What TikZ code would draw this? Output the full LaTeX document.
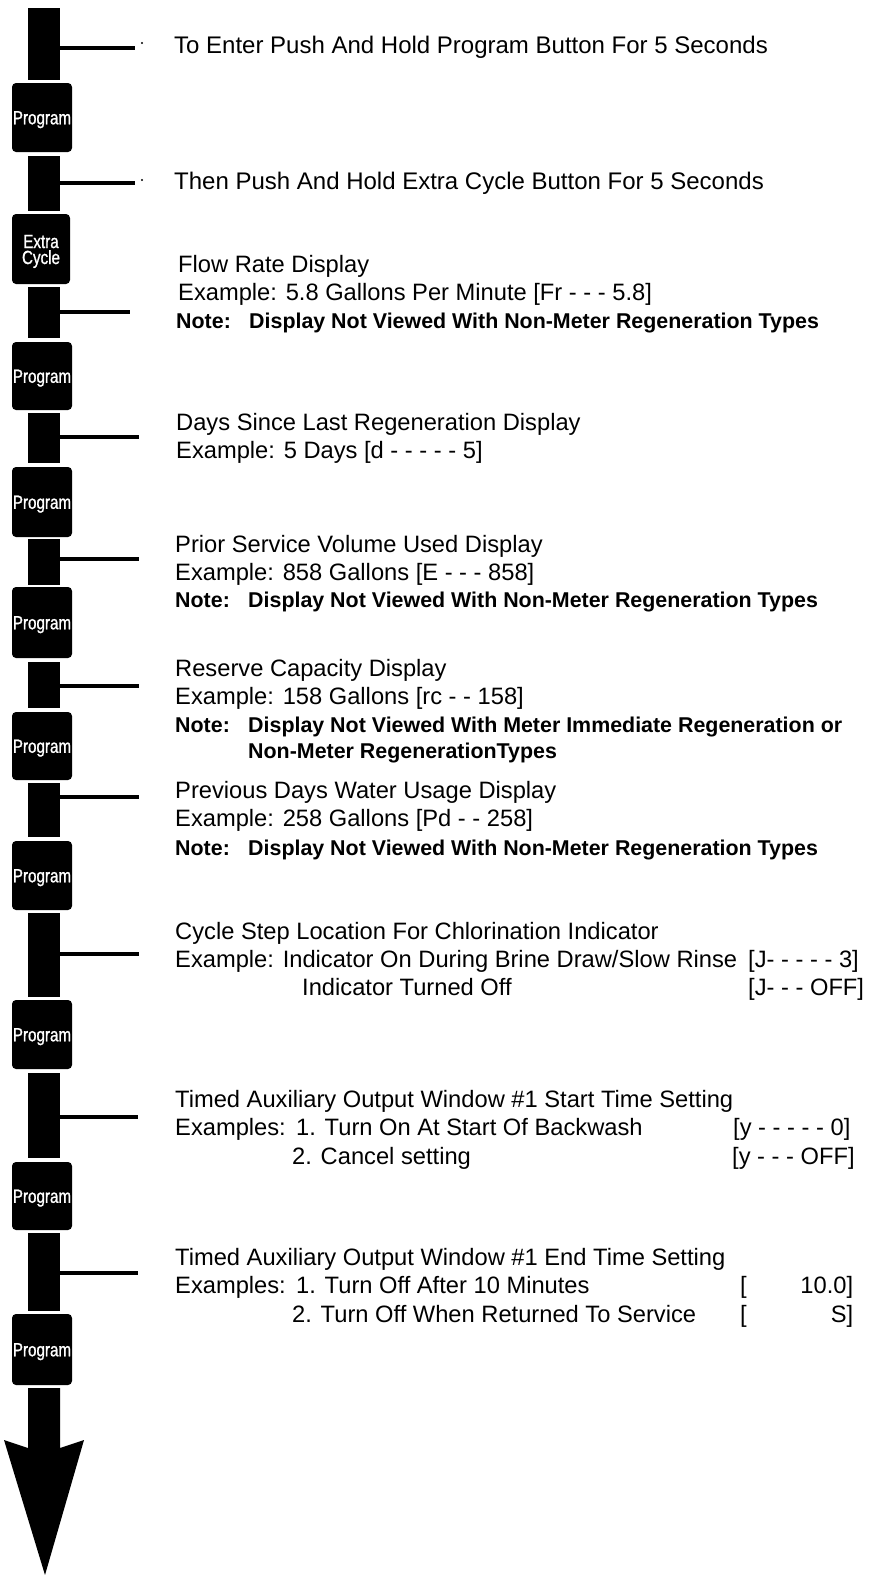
\documentclass[tikz,border=0pt]{standalone}
\usepackage{fontspec}
\setmainfont{Liberation Sans}
\newfontfamily\btnfont[FakeStretch=0.8,FakeBold=1]{Liberation Sans}
\begin{document}
\begin{tikzpicture}[x=1pt,y=-1pt,
  bar/.style={fill=black, draw=none, inner sep=0pt, outer sep=0pt, minimum width=32pt},
  btn/.style={fill=black, draw=none, rounded corners=4pt, inner sep=0pt, outer sep=0pt,
    minimum width=60pt, text=white, font=\btnfont\fontsize{19}{17}\selectfont,
    text height=13.5pt, text depth=0pt, align=center},
  lead/.style={line width=4pt, line cap=butt},
  txt/.style={anchor=base west, inner sep=0pt, font=\fontsize{23.7}{28}\selectfont},
  bigtxt/.style={txt, font=\fontsize{24}{28}\selectfont},
  notetxt/.style={anchor=base west, inner sep=0pt, font=\fontsize{21.4}{26}\selectfont\bfseries}]
\useasboundingbox (0,0) rectangle (880,1575);

% ---- left column: bars and buttons ----
\node[bar, minimum height=72pt] (b1) at (44,44) {};
\node[btn, minimum height=69pt] (p1) at (42,117.5) {Program};
\node[bar, minimum height=55pt] (b2) at (44,183.5) {};
\node[btn, minimum height=70pt, minimum width=58pt, text height=30pt] (x1) at (41,249) {Extra\\[-1pt]Cycle};
\node[bar, minimum height=51pt] (b3) at (44,312.5) {};
\node[btn, minimum height=68pt] (p2) at (42,376) {Program};
\node[bar, minimum height=50pt] (b4) at (44,438) {};
\node[btn, minimum height=70pt] (p3) at (42,502) {Program};
\node[bar, minimum height=46pt] (b5) at (44,562) {};
\node[btn, minimum height=71pt] (p4) at (42,622.5) {Program};
\node[bar, minimum height=46pt] (b6) at (44,685) {};
\node[btn, minimum height=68pt] (p5) at (42,746) {Program};
\node[bar, minimum height=54pt] (b7) at (44,810) {};
\node[btn, minimum height=69pt] (p6) at (42,875.5) {Program};
\node[bar, minimum height=84pt] (b8) at (44,955) {};
\node[btn, minimum height=69pt] (p7) at (42,1034.5) {Program};
\node[bar, minimum height=85pt] (b9) at (44,1115.5) {};
\node[btn, minimum height=68pt] (p8) at (42,1196) {Program};
\node[bar, minimum height=78pt] (b10) at (44,1272) {};
\node[btn, minimum height=71pt] (p9) at (42,1349.5) {Program};

% ---- final arrow ----
\fill (28,1388) -- (60,1388) -- (60,1448) -- (84,1440) -- (45,1575) -- (4,1440) -- (28,1448) -- cycle;

% ---- leader lines ----
\coordinate (e1) at (135,48);
\coordinate (e2) at (135,183);
\coordinate (e3) at (130,312);
\coordinate (e4) at (139,437);
\coordinate (e5) at (139,559);
\coordinate (e6) at (139,686);
\coordinate (e7) at (139,797);
\coordinate (e8) at (139,954);
\coordinate (e9) at (138,1117);
\coordinate (e10) at (138,1273);
\draw[lead] (b1.east |- e1) -- (e1);
\draw[lead] (b2.east |- e2) -- (e2);
\draw[lead] (b3.east |- e3) -- (e3);
\draw[lead] (b4.east |- e4) -- (e4);
\draw[lead] (b5.east |- e5) -- (e5);
\draw[lead] (b6.east |- e6) -- (e6);
\draw[lead] (b7.east |- e7) -- (e7);
\draw[lead] (b8.east |- e8) -- (e8);
\draw[lead] (b9.east |- e9) -- (e9);
\draw[lead] (b10.east |- e10) -- (e10);
\coordinate (d1) at (142,43);
\coordinate (d2) at (142,180);
\fill (d1) circle (1.1pt);
\fill (d2) circle (1.1pt);

% ---- texts ----
\node[bigtxt] (t1) at (174,53) {To Enter Push And Hold Program Button For 5 Seconds};
\node[bigtxt] (t2) at (174,189) {Then Push And Hold Extra Cycle Button For 5 Seconds};

\node[txt] (t3) at (178,272) {Flow Rate Display};
\node[txt] (t4) at (178,300) {Example: 5.8 Gallons Per Minute [Fr - - - 5.8]};
\node[notetxt] (n1a) at (176,328) {Note:};
\node[notetxt] (n1b) at (249,328) {Display Not Viewed With Non-Meter Regeneration Types};

\node[txt] (t5) at (176,430) {Days Since Last Regeneration Display};
\node[txt] (t6) at (176,458) {Example: 5 Days [d - - - - - 5]};

\node[txt] (t7) at (175,552) {Prior Service Volume Used Display};
\node[txt] (t8) at (175,580) {Example: 858 Gallons [E - - - 858]};
\node[notetxt] (n2a) at (175,607) {Note:};
\node[notetxt] (n2b) at (248,607) {Display Not Viewed With Non-Meter Regeneration Types};

\node[txt] (t9) at (175,676) {Reserve Capacity Display};
\node[txt] (t10) at (175,704) {Example: 158 Gallons [rc - - 158]};
\node[notetxt] (n3a) at (175,732) {Note:};
\node[notetxt] (n3b) at (248,732) {Display Not Viewed With Meter Immediate Regeneration or};
\node[notetxt] (n3c) at (248,758) {Non-Meter RegenerationTypes};

\node[txt] (t11) at (175,798) {Previous Days Water Usage Display};
\node[txt] (t12) at (175,826) {Example: 258 Gallons [Pd - - 258]};
\node[notetxt] (n4a) at (175,855) {Note:};
\node[notetxt] (n4b) at (248,855) {Display Not Viewed With Non-Meter Regeneration Types};

\node[txt] (t13) at (175,939) {Cycle Step Location For Chlorination Indicator};
\node[txt] (t14) at (175,967) {Example: Indicator On During Brine Draw/Slow Rinse};
\node[txt] (t14r) at (748,967) {[J- - - - - 3]};
\node[txt] (t15) at (302,995) {Indicator Turned Off};
\node[txt] (t15r) at (748,995) {[J- - - OFF]};

\node[txt] (t16) at (175,1107) {Timed Auxiliary Output Window \#1 Start Time Setting};
\node[txt] (t17) at (175,1135) {Examples:};
\node[txt] (t17b) at (296,1135) {1. Turn On At Start Of Backwash};
\node[txt] (t17r) at (733,1135) {[y - - - - - 0]};
\node[txt] (t18) at (292,1164) {2. Cancel setting};
\node[txt] (t18r) at (732,1164) {[y - - - OFF]};

\node[txt] (t19) at (175,1265) {Timed Auxiliary Output Window \#1 End Time Setting};
\node[txt] (t20) at (175,1293) {Examples:};
\node[txt] (t20b) at (296,1293) {1. Turn Off After 10 Minutes};
\node[txt] (t20r) at (740,1293) {\makebox[113pt][l]{[\hfill 10.0]}};
\node[txt] (t21) at (292,1322) {2. Turn Off When Returned To Service};
\node[txt] (t21r) at (740,1322) {\makebox[113pt][l]{[\hfill S]}};
\end{tikzpicture}
\end{document}
